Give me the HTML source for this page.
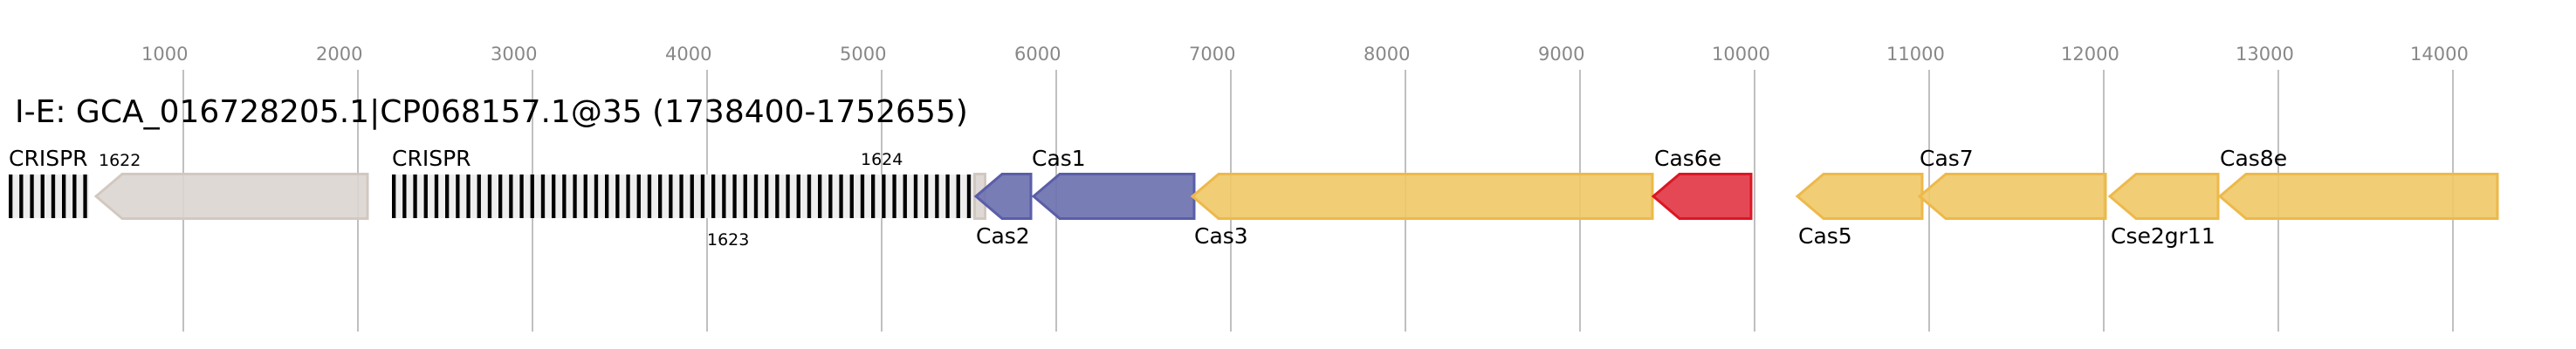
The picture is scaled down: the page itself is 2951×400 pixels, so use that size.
<!DOCTYPE html>
<html><head><meta charset="utf-8"><style>
html,body{margin:0;padding:0;background:#fff;}
svg{display:block;font-family:"DejaVu Sans","Liberation Sans",sans-serif;}
</style></head><body>
<svg width="2951" height="400" viewBox="0 0 2951 400" xmlns="http://www.w3.org/2000/svg">
<defs>
<pattern id="cr" x="10" y="0" width="12.2" height="10" patternUnits="userSpaceOnUse">
<rect x="0" y="0" width="12.2" height="10" fill="#eeeeee"/>
<rect x="0" y="0" width="4.3" height="10" fill="#000"/>
</pattern>
<pattern id="cr2" x="449" y="0" width="12.2" height="10" patternUnits="userSpaceOnUse">
<rect x="0" y="0" width="12.2" height="10" fill="#eeeeee"/>
<rect x="0" y="0" width="4.3" height="10" fill="#000"/>
</pattern>
</defs>
<g font-size="21" fill="#888">
<text x="162" y="69">1000</text>
<text x="362" y="69">2000</text>
<text x="562" y="69">3000</text>
<text x="762" y="69">4000</text>
<text x="962" y="69">5000</text>
<text x="1162" y="69">6000</text>
<text x="1362" y="69">7000</text>
<text x="1562" y="69">8000</text>
<text x="1762" y="69">9000</text>
<text x="1961" y="69">10000</text>
<text x="2161" y="69">11000</text>
<text x="2361" y="69">12000</text>
<text x="2561" y="69">13000</text>
<text x="2761" y="69">14000</text>
</g>
<g stroke="#c0c0c0" stroke-width="2">
<line x1="210" y1="80" x2="210" y2="380"/><line x1="410" y1="80" x2="410" y2="380"/>
<line x1="610" y1="80" x2="610" y2="380"/><line x1="810" y1="80" x2="810" y2="380"/>
<line x1="1010" y1="80" x2="1010" y2="380"/><line x1="1210" y1="80" x2="1210" y2="380"/>
<line x1="1410" y1="80" x2="1410" y2="380"/><line x1="1610" y1="80" x2="1610" y2="380"/>
<line x1="1810" y1="80" x2="1810" y2="380"/><line x1="2010" y1="80" x2="2010" y2="380"/>
<line x1="2210" y1="80" x2="2210" y2="380"/><line x1="2410" y1="80" x2="2410" y2="380"/>
<line x1="2610" y1="80" x2="2610" y2="380"/><line x1="2810" y1="80" x2="2810" y2="380"/>
</g>
<text x="17" y="140" font-size="36" fill="#000">I-E: GCA_016728205.1|CP068157.1@35 (1738400-1752655)</text>

<rect x="10" y="200" width="92" height="50" fill="url(#cr)"/>
<rect x="449" y="200" width="666" height="50" fill="url(#cr2)"/>

<g stroke-width="3" stroke-linejoin="miter">
<path d="M110,225 L140,199.5 L421,199.5 L421,250.5 L140,250.5 Z" fill="#dcd5d0" fill-opacity="0.9" stroke="#d2c8c0"/>
<rect x="1116.5" y="199.5" width="12" height="51" fill="#dcd5d0" fill-opacity="0.9" stroke="#d2c8c0"/>
<path d="M1118,225 L1148,199.5 L1181,199.5 L1181,250.5 L1148,250.5 Z" fill="#6e72b0" fill-opacity="0.92" stroke="#5a5ea8"/>
<path d="M1184,225 L1214,199.5 L1368,199.5 L1368,250.5 L1214,250.5 Z" fill="#6e72b0" fill-opacity="0.92" stroke="#5a5ea8"/>
<path d="M1366,225 L1396,199.5 L1893,199.5 L1893,250.5 L1396,250.5 Z" fill="#efc867" fill-opacity="0.9" stroke="#edb94a"/>
<path d="M1894,225 L1924,199.5 L2006,199.5 L2006,250.5 L1924,250.5 Z" fill="#e23a48" fill-opacity="0.93" stroke="#dc1624"/>
<path d="M2059,225 L2089,199.5 L2202,199.5 L2202,250.5 L2089,250.5 Z" fill="#efc867" fill-opacity="0.9" stroke="#edb94a"/>
<path d="M2199,225 L2229,199.5 L2412,199.5 L2412,250.5 L2229,250.5 Z" fill="#efc867" fill-opacity="0.9" stroke="#edb94a"/>
<path d="M2417,225 L2447,199.5 L2541,199.5 L2541,250.5 L2447,250.5 Z" fill="#efc867" fill-opacity="0.9" stroke="#edb94a"/>
<path d="M2543,225 L2573,199.5 L2861,199.5 L2861,250.5 L2573,250.5 Z" fill="#efc867" fill-opacity="0.9" stroke="#edb94a"/>
</g>

<g font-size="25" fill="#000">
<text x="10" y="190">CRISPR</text>
<text x="449" y="190">CRISPR</text>
<text x="1182" y="190">Cas1</text>
<text x="1118" y="279">Cas2</text>
<text x="1368" y="279">Cas3</text>
<text x="1895" y="190">Cas6e</text>
<text x="2060" y="279">Cas5</text>
<text x="2199" y="190">Cas7</text>
<text x="2418" y="279">Cse2gr11</text>
<text x="2543" y="190">Cas8e</text>
</g>
<g font-size="19" fill="#000">
<text x="113" y="190">1622</text>
<text x="810" y="281">1623</text>
<text x="986" y="189">1624</text>
</g>
</svg>
</body></html>
